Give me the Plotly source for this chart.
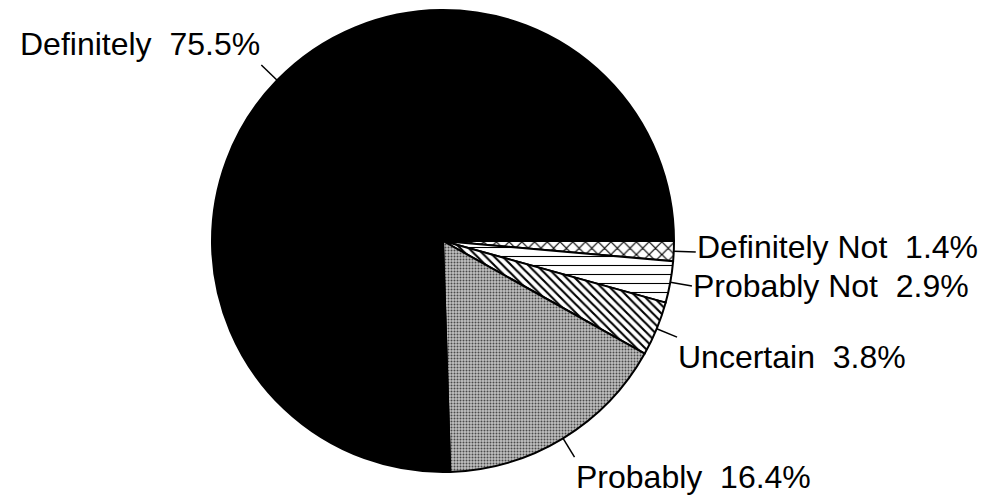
import math
import plotly.graph_objects as go

# Survey response shares (percent), drawn clockwise from 3 o'clock
labels = ["Definitely Not", "Probably Not", "Uncertain", "Probably", "Definitely"]
values = [1.4, 2.9, 3.8, 16.4, 75.5]

# Fill styles per slice
pattern_shapes = ["x", "-", "\\", ".", ""]
pattern_fg = ["black", "black", "black", "#4a4a4a", "black"]
pattern_bg = ["white", "white", "white", "#c0c0c0", "black"]
pattern_size = [9, 9, 6, 3, 8]
pattern_solidity = [0.25, 0.12, 0.35, 0.35, 0.3]

# Label anchoring per slice: (xanchor, yanchor, yshift px)
label_anchor = [("left", "middle", 5), ("left", "middle", 0), ("left", "top", -1),
                ("left", "top", -1), ("right", "bottom", 2)]

W, H = 991, 498
CX, CY, R = 443, 241, 231          # pie centre and radius in pixels
LEADER = 22                        # leader line length beyond the rim

fig = go.Figure(go.Pie(
    labels=labels,
    values=values,
    sort=False,
    direction="clockwise",
    rotation=90,
    textinfo="none",
    hoverinfo="label+percent",
    marker=dict(
        colors=pattern_bg,
        line=dict(color="black", width=2),
        pattern=dict(shape=pattern_shapes, fgcolor=pattern_fg, bgcolor=pattern_bg,
                     size=pattern_size, solidity=pattern_solidity, fillmode="replace"),
    ),
    domain=dict(x=[(CX - R) / W, (CX + R) / W], y=[(H - CY - R) / H, (H - CY + R) / H]),
    showlegend=False,
))

def to_paper(px, py):
    return px / W, 1 - py / H

total = sum(values)
cum = 0.0
annotations, shapes = [], []
for lab, v, (xa, ya, ys) in zip(labels, values, label_anchor):
    mid = math.radians(360 * (cum + v / 2) / total)
    cum += v
    x0, y0 = CX + R * math.cos(mid), CY + R * math.sin(mid)
    x1, y1 = CX + (R + LEADER) * math.cos(mid), CY + (R + LEADER) * math.sin(mid)
    p0, p1 = to_paper(x0, y0), to_paper(x1, y1)
    shapes.append(dict(type="line", xref="paper", yref="paper",
                       x0=p0[0], y0=p0[1], x1=p1[0], y1=p1[1],
                       line=dict(color="black", width=1.5)))
    annotations.append(dict(
        xref="paper", yref="paper", x=p1[0], y=p1[1],
        xanchor=xa, yanchor=ya, yshift=ys, showarrow=False,
        borderpad=0,
        text=f"{lab}\u00a0 {v:.1f}%",
        font=dict(family="Liberation Sans, Arial, sans-serif", size=32, color="black"),
    ))

fig.update_layout(
    width=W, height=H,
    margin=dict(l=0, r=0, t=0, b=0),
    paper_bgcolor="white",
    plot_bgcolor="white",
    annotations=annotations,
    shapes=shapes,
)

fig.write_html("out.html")
